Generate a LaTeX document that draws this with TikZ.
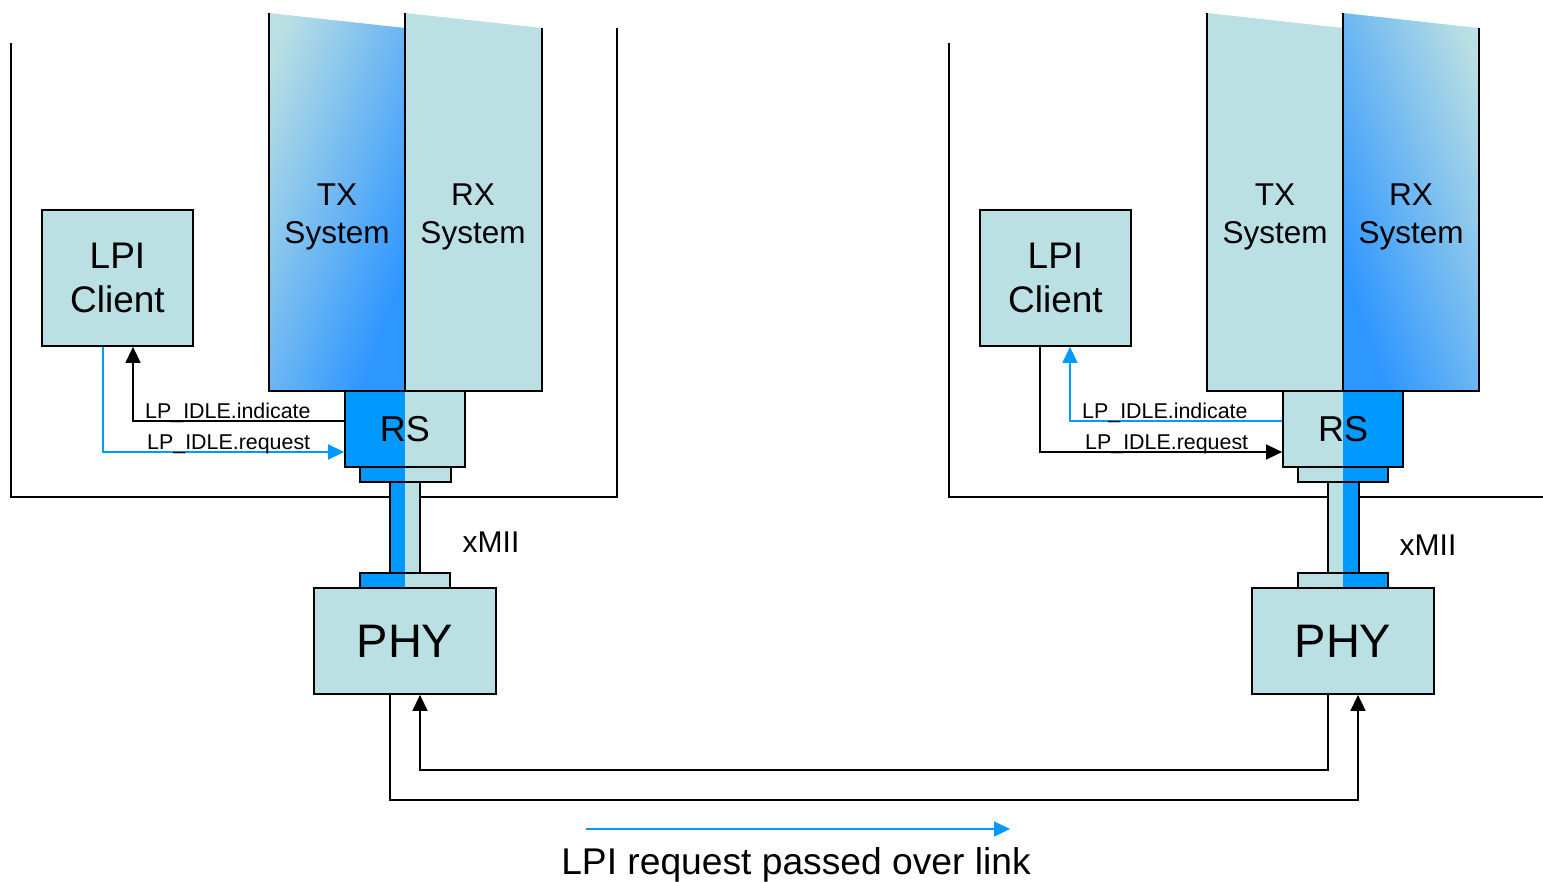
\documentclass[tikz,border=0pt]{standalone}
\usepackage{fontspec}
\setmainfont{Liberation Sans}
\usetikzlibrary{arrows.meta}
\definecolor{tealc}{HTML}{BBE0E3}
\definecolor{bluec}{HTML}{0099FF}
\definecolor{blueg}{HTML}{2E96FF}
\definecolor{linkblue}{HTML}{0099FF}
\pgfdeclarehorizontalshading{txgrad}{100bp}{color(0bp)=(tealc); color(22bp)=(tealc); color(72bp)=(blueg); color(100bp)=(blueg)}
\tikzset{
  boxline/.style={line width=1.8pt, draw=black},
  wire/.style={line width=1.5pt, draw=black},
  tip/.style={-{Triangle[length=16pt,width=15pt]}},
  btip/.style={-{Triangle[length=16pt,width=15pt,fill=linkblue]}},
  blk/.style={rectangle, inner sep=0pt, line width=1.8pt, draw=black},
  lpibox/.style={blk, fill=tealc, minimum width=151pt, minimum height=136pt, align=center, font=\fontsize{37}{44}\selectfont},
  phybox/.style={blk, fill=tealc, minimum width=182pt, minimum height=106pt, font=\fontsize{47}{50}\selectfont},
  rsbox/.style={blk, minimum width=120pt, minimum height=76pt, font=\fontsize{36}{40}\selectfont},
  syslabel/.style={align=center, font=\fontsize{31.5}{38}\selectfont, inner sep=0pt},
  siglabel/.style={anchor=base west, inner sep=0pt, font=\fontsize{21.4}{23}\selectfont},
  xmiilabel/.style={font=\fontsize{30}{32}\selectfont, inner sep=0pt},
}
\begin{document}
\begin{tikzpicture}[x=1pt,y=-1pt]
\useasboundingbox (0,0) rectangle (1543,882);
% ===================== LEFT STATION =====================
\draw[boxline, line width=1.5pt] (11,43) -- (11,497) -- (617,497) -- (617,28);
% TX / RX columns
\shade[shading=txgrad, shading angle=-20] (269,13) -- (405,28) -- (405,391) -- (269,391) -- cycle;
\fill[tealc] (405,13) -- (542,28) -- (542,391) -- (405,391) -- cycle;
\draw[boxline] (269,13) -- (269,391) -- (542,391) -- (542,28);
\draw[boxline] (405,13) -- (405,391);
\node[syslabel] (txL) at (337,217) {TX\\System};
\node[syslabel] (rxL) at (473,217) {RX\\System};
% RS
\fill[bluec] (345,391) rectangle (405,467);
\fill[tealc] (405,391) rectangle (465,467);
\node[rsbox] (rsL) at (405,429) {\raisebox{-1pt}{RS}};
% xMII connector
\fill[bluec] (360,467) rectangle (405,482);
\fill[tealc] (405,467) rectangle (451,482);
\draw[boxline] (360,467) rectangle (451,482);
\fill[bluec] (390,482) rectangle (405,573);
\fill[tealc] (405,482) rectangle (420,573);
\draw[boxline] (390,482) rectangle (420,573);
\fill[bluec] (360,573) rectangle (405,588);
\fill[tealc] (405,573) rectangle (450,588);
\draw[boxline] (360,573) rectangle (450,588);
\node[xmiilabel] (xmiiL) at (491,542) {xMII};
% PHY and LPI client
\node[phybox] (phyL) at (405,641) {PHY};
\node[lpibox] (lpiL) at (117.5,278) {\raisebox{-2pt}{\parbox{151pt}{\centering LPI\\Client}}};
% signals
\draw[wire, tip] ([yshift=8pt]rsL.west) -| ([xshift=15.5pt]lpiL.south);
\draw[wire, draw=linkblue, btip] ([xshift=-14.5pt]lpiL.south) |- ([yshift=-23pt]rsL.west);
\node[siglabel] (indL) at (145,419) {LP\_IDLE.indicate};
\node[siglabel] (reqL) at (147,450) {LP\_IDLE.request};
% ===================== RIGHT STATION =====================
\draw[boxline, line width=1.5pt] (949,43) -- (949,497) -- (1545,497);
\fill[tealc] (1207,13) -- (1343,28) -- (1343,391) -- (1207,391) -- cycle;
\shade[shading=txgrad, shading angle=200] (1343,13) -- (1479,28) -- (1479,391) -- (1343,391) -- cycle;
\draw[boxline] (1207,13) -- (1207,391) -- (1479,391) -- (1479,28);
\draw[boxline] (1343,13) -- (1343,391);
\node[syslabel] (txR) at (1275,217) {TX\\System};
\node[syslabel] (rxR) at (1411,217) {RX\\System};
% RS
\fill[tealc] (1283,391) rectangle (1343,467);
\fill[bluec] (1343,391) rectangle (1403,467);
\node[rsbox] (rsR) at (1343,429) {\raisebox{-1pt}{RS}};
% xMII connector
\fill[tealc] (1298,467) rectangle (1343,482);
\fill[bluec] (1343,467) rectangle (1388,482);
\draw[boxline] (1298,467) rectangle (1388,482);
\fill[tealc] (1328,482) rectangle (1343,573);
\fill[bluec] (1343,482) rectangle (1359,573);
\draw[boxline] (1328,482) rectangle (1359,573);
\fill[tealc] (1298,573) rectangle (1343,588);
\fill[bluec] (1343,573) rectangle (1388,588);
\draw[boxline] (1298,573) rectangle (1388,588);
\node[xmiilabel] (xmiiR) at (1428,545) {xMII};
% PHY and LPI client
\node[phybox] (phyR) at (1343,641) {PHY};
\node[lpibox] (lpiR) at (1055.5,278) {\raisebox{-2pt}{\parbox{151pt}{\centering LPI\\Client}}};
% signals
\draw[wire, draw=linkblue, btip] ([yshift=8pt]rsR.west) -| ([xshift=14.5pt]lpiR.south);
\draw[wire, tip] ([xshift=-15.5pt]lpiR.south) |- ([yshift=-23pt]rsR.west);
\node[siglabel] (indR) at (1082,419) {LP\_IDLE.indicate};
\node[siglabel] (reqR) at (1085,450) {LP\_IDLE.request};
% ===================== LINK =====================
\draw[wire, tip] ([xshift=-15pt]phyL.south) -- ++(0,105) -| ([xshift=15pt]phyR.south);
\draw[wire, tip] ([xshift=-15pt]phyR.south) -- ++(0,75) -| ([xshift=15pt]phyL.south);
% legend
\coordinate (legA) at (586,829);
\coordinate (legB) at (1010,829);
\draw[wire, draw=linkblue, btip] (legA) -- (legB);
\node[font=\fontsize{37.2}{40}\selectfont, inner sep=0pt, anchor=base] (legtext) at (796,874) {LPI request passed over link};
\end{tikzpicture}
\end{document}
